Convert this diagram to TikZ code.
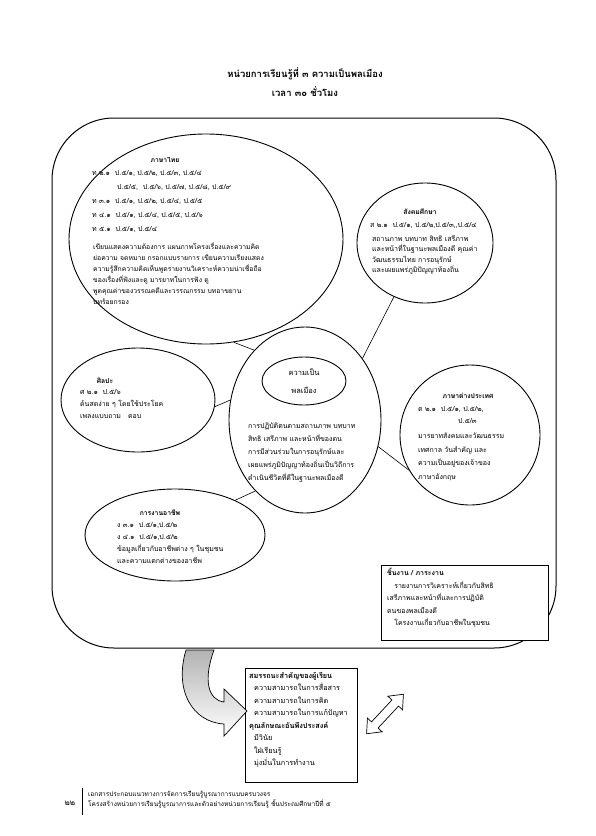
\documentclass[tikz,border=0pt]{standalone}
\usepackage{fontspec}
\newfontfamily\thai[Script=Thai]{Loma}
\usetikzlibrary{shapes.geometric}
\tikzset{
  bub/.style={draw, ellipse, line width=0.9pt, inner sep=0pt},
  conn/.style={draw, line width=0.6pt},
  ttl/.style={font=\thai\bfseries\fontsize{9.5}{11}\selectfont, inner sep=0pt},
  hd/.style={font=\thai\bfseries\fontsize{6.8}{8}\selectfont, inner sep=0pt},
  txt/.style={font=\thai\fontsize{7}{12}\selectfont, align=left, anchor=north west, inner sep=0pt},
  par/.style={font=\thai\fontsize{6.8}{11}\selectfont, align=left, anchor=north west, inner sep=0pt},
  boxed/.style={draw, line width=0.8pt, fill=white, inner sep=0pt},
}
\begin{document}
\begin{tikzpicture}[x=1pt,y=-1pt]
\useasboundingbox (0,0) rectangle (595,836);
% title
\node[ttl] (t1) at (305,74) {หน่วยการเรียนรู้ที่ ๓ ความเป็นพลเมือง};
\node[ttl] (t2) at (305,92) {เวลา ๓๐ ชั่วโมง};
% frame
\draw[line width=1pt, rounded corners=62pt] (52,118) rectangle (556,648);
% ellipses
\node[bub, fill=white, minimum width=274pt, minimum height=210pt] (thai) at (206,239) {};
\node[bub, fill=white, minimum width=136pt, minimum height=120pt] (soc) at (425,243) {};
\node[bub, fill=white, minimum width=154pt, minimum height=104pt] (art) at (138,400) {};
\node[bub, fill=white, minimum width=140pt, minimum height=140pt] (eng) at (470,435) {};
\node[bub, fill=white, minimum width=180pt, minimum height=92pt] (work) at (175,535) {};
\node[bub, fill=white, minimum width=152pt, minimum height=186pt] (cen) at (305,420) {};
\node[bub, minimum width=84pt, minimum height=48pt] (core) at (304,381) {};
% connectors
\draw[conn] (cen.126) -- (thai.-75);
\draw[conn] (cen.47) -- (soc.-120);
\draw[conn] (cen.165) -- (art.-5);
\draw[conn] (cen.-20) -- (eng.-150);
\draw[conn] (cen.-125) -- (work.30);
% core text
\node[font=\thai\fontsize{7.5}{18}\selectfont, align=center, inner sep=0pt] (coret) at (304,381) {ความเป็น\\พลเมือง};
\node[txt, font=\thai\fontsize{7}{13}\selectfont] (cent) at (248,423) {การปฏิบัติตนตามสถานภาพ บทบาท\\สิทธิ เสรีภาพ และหน้าที่ของตน\\การมีส่วนร่วมในการอนุรักษ์และ\\เผยแพร่ภูมิปัญญาท้องถิ่นเป็นวิถีการ\\ดำเนินชีวิตที่ดีในฐานะพลเมืองดี};
% Thai
\node[hd] (thaih) at (165,160) {ภาษาไทย};
\node[txt, font=\thai\fontsize{7}{14}\selectfont] (thaii) at (92,170) {ท ๒.๑\ \ ป.๕/๑, ป.๕/๒, ป.๕/๓, ป.๕/๔\\\hspace*{25pt}ป.๕/๕,\ \ ป.๕/๖, ป.๕/๗, ป.๕/๘, ป.๕/๙\\ท ๓.๑\ \ ป.๕/๑, ป.๕/๒, ป.๕/๔, ป.๕/๕\\ท ๔.๑\ \ ป.๕/๑, ป.๕/๔, ป.๕/๕, ป.๕/๖\\ท ๕.๑\ \ ป.๕/๑, ป.๕/๔};
\node[par] (thait) at (93,242) {เขียนแสดงความต้องการ แผนภาพโครงเรื่องและความคิด\\ย่อความ จดหมาย กรอกแบบรายการ เขียนความเรียงแสดง\\ความรู้สึกความคิดเห็นพูดรายงานวิเคราะห์ความน่าเชื่อถือ\\ของเรื่องที่ฟังและดู มารยาทในการฟัง ดู\\พูดคุณค่าของวรรณคดีและวรรณกรรม บทอาขยาน\\บทร้อยกรอง};
% social
\node[hd] (soch) at (420,212) {สังคมศึกษา};
\node[txt] (soci) at (370,222) {ส ๒.๑\ \ ป.๕/๑, ป.๕/๒,ป.๕/๓,,ป.๕/๔};
\node[par, font=\thai\fontsize{7}{10.5}\selectfont] (soct) at (372,235) {สถานภาพ บทบาท สิทธิ เสรีภาพ\\และหน้าที่ในฐานะพลเมืองดี คุณค่า\\วัฒนธรรมไทย การอนุรักษ์\\และเผยแพร่ภูมิปัญญาท้องถิ่น};
% art
\node[hd] (arth) at (105,381) {ศิลปะ};
\node[txt] (artt) at (80,389) {ศ ๒.๑\ \ ป.๕/๖\\ด้นสดง่าย ๆ โดยใช้ประโยค\\เพลงแบบถาม\ \ \ ตอบ};
% foreign
\node[hd] (engh) at (468,396) {ภาษาต่างประเทศ};
\node[txt] (engi) at (418,406) {ต ๒.๑\ \ ป.๕/๑, ป.๕/๒,};
\node[txt] (engi2) at (458,418) {ป.๕/๓};
\node[par, font=\thai\fontsize{7}{13.5}\selectfont] (engt) at (418,433) {มารยาทสังคมและวัฒนธรรม\\เทศกาล วันสำคัญ และ\\ความเป็นอยู่ของเจ้าของ\\ภาษาอังกฤษ};
% work
\node[hd] (workh) at (160,513) {การงานอาชีพ};
\node[txt] (workt) at (117,522) {ง ๓.๑\ \ ป.๕/๑,ป.๕/๒\\ง ๔.๑\ \ ป.๕/๑,ป.๕/๒\\ข้อมูลเกี่ยวกับอาชีพต่าง ๆ ในชุมชน\\และความแตกต่างของอาชีพ};
% task box
\node[boxed, minimum width=167pt, minimum height=75pt] (task) at (464.5,602.5) {};
\node[txt, font=\thai\bfseries\fontsize{7}{8}\selectfont] (taskh) at (387,568) {ชิ้นงาน / ภาระงาน};
\node[txt, font=\thai\fontsize{7}{12.5}\selectfont] (taskt) at (387,581) {\ \ \ รายงานการวิเคราะห์เกี่ยวกับสิทธิ\\เสรีภาพและหน้าที่และการปฏิบัติ\\ตนของพลเมืองดี\\\ \ \ โครงงานเกี่ยวกับอาชีพในชุมชน};
% competency box
\node[boxed, minimum width=112pt, minimum height=114pt] (comp) at (301,725) {};
\node[txt, font=\thai\fontsize{7.3}{12.5}\selectfont] (compt) at (249,672) {\textbf{สมรรถนะสำคัญของผู้เรียน}\\\ \ ความสามารถในการสื่อสาร\\\ \ ความสามารถในการคิด\\\ \ ความสามารถในการแก้ปัญหา\\\textbf{คุณลักษณะอันพึงประสงค์}\\\ \ มีวินัย\\\ \ ใฝ่เรียนรู้\\\ \ มุ่งมั่นในการทำงาน};
% curved arrow
\draw[line width=0.7pt, top color=gray!60, bottom color=white] (214,650) -- (186,650) .. controls (174,690) and (192,722) .. (224,724) -- (224,736) -- (247,711) -- (224,689) -- (224,702) .. controls (208,700) and (203,680) .. (214,650) -- cycle;
% double arrow
\begin{scope}[shift={(385,714)}, rotate=47]
\draw[line width=0.7pt, fill=white] (-27,0) -- (-15,10) -- (-15,4.5) -- (15,4.5) -- (15,10) -- (27,0) -- (15,-10) -- (15,-4.5) -- (-15,-4.5) -- (-15,-10) -- cycle;
\end{scope}
% footer
\node[font=\thai\fontsize{8}{9}\selectfont, inner sep=0pt] (pg) at (70,803) {๒๒};
\draw[line width=0.8pt] (82,788) -- (82,815);
\node[txt, font=\thai\fontsize{6.5}{10}\selectfont] (foot) at (88,791) {เอกสารประกอบแนวทางการจัดการเรียนรู้บูรณาการแบบครบวงจร\\โครงสร้างหน่วยการเรียนรู้บูรณาการและตัวอย่างหน่วยการเรียนรู้ ชั้นประถมศึกษาปีที่ ๕};
\end{tikzpicture}
\end{document}
